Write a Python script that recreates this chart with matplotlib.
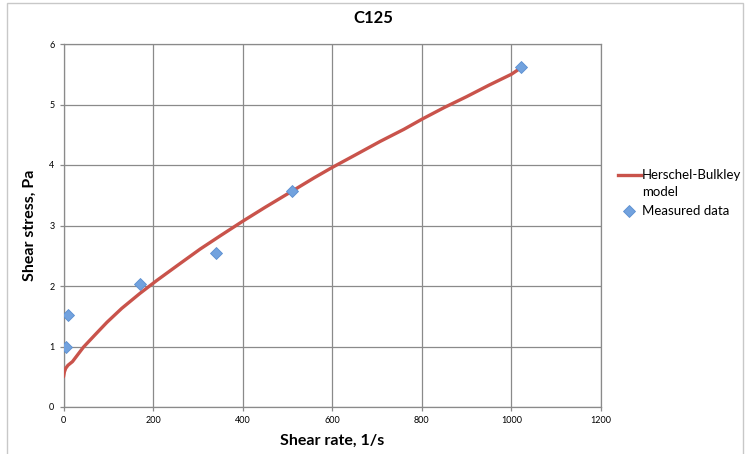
import matplotlib
matplotlib.use("Agg")
import matplotlib.pyplot as plt
from matplotlib.patches import Rectangle
from matplotlib.lines import Line2D

# measured points (Fann rates in 1/s, stress in Pa)
shear_rate = [5.11, 10.22, 170.3, 340.6, 510.9, 1021.8]
shear_stress = [1.00, 1.52, 2.03, 2.55, 3.57, 5.62]

# Herschel-Bulkley model curve
model_rate = [0, 2, 5, 10, 20, 44.6, 70, 97, 130, 171, 208, 260, 305, 350, 400,
              450, 513, 560, 600, 650, 707, 760, 801, 850, 900, 950, 1000, 1022]
model_stress = [0.50, 0.58, 0.64, 0.69, 0.75, 0.99, 1.19, 1.40, 1.63, 1.88, 2.09,
                2.37, 2.61, 2.83, 3.07, 3.30, 3.58, 3.79, 3.96, 4.16, 4.39, 4.59,
                4.76, 4.95, 5.13, 5.32, 5.50, 5.61]

x_ticks = [0, 200, 400, 600, 800, 1000, 1200]
y_ticks = [0, 1, 2, 3, 4, 5, 6]

plt.rcParams['font.family'] = ['Lato', 'DejaVu Sans']

W, H = 746, 454
fig = plt.figure(figsize=(W / 100, H / 100), dpi=100)
ax = fig.add_axes([63.5 / W, 47 / H, 537.5 / W, 363 / H])

grid_col = '#8a8a8a'
line_col = '#c9534b'
mk = dict(marker='D', ms=6.5, mfc='#72a2de', mec='#5b8fd0', mew=0.6)

ax.plot(model_rate, model_stress, color=line_col, lw=2.4,
        solid_capstyle='round', zorder=3)
ax.plot(shear_rate, shear_stress, linestyle='none', zorder=4, **mk)

ax.set_xlim(0, 1200)
ax.set_ylim(0, 6)
ax.set_xticks(x_ticks)
ax.set_yticks(y_ticks)
ax.grid(True, color=grid_col, lw=0.9)
ax.set_axisbelow(True)
for s in ax.spines.values():
    s.set_color(grid_col)
    s.set_linewidth(0.9)
ax.tick_params(colors=grid_col, labelcolor='black', labelsize=6.5,
               length=3, width=0.9, direction='out')

ax.set_xlabel('Shear rate, 1/s', fontsize=11.5, fontweight='bold', labelpad=6)
ax.set_ylabel('Shear stress, Pa', fontsize=11.5, fontweight='bold', labelpad=9)
fig.text(373 / W, 1 - 18 / H, 'C125', ha='center', va='center',
         fontsize=12, fontweight='bold')

# legend drawn by hand so the line key sits on the first text row
fig.add_artist(Line2D([618 / W, 641 / W], [1 - 175 / H] * 2, color=line_col,
                      lw=2.4, transform=fig.transFigure))
fig.add_artist(Line2D([629 / W], [1 - 211 / H], linestyle='none',
                      transform=fig.transFigure, **mk))
for ty, txt in [(175, 'Herschel-Bulkley'), (192, 'model'), (211, 'Measured data')]:
    fig.text(642 / W, 1 - ty / H, txt, ha='left', va='center', fontsize=9.5)

# thin outer frame of the chart area
fig.patches.append(Rectangle((7 / W, -0.05), 736 / W, 1.05 - 3 / H,
                             transform=fig.transFigure, fill=False,
                             edgecolor='#c8c8c8', lw=1.0))

fig.savefig('out.png', dpi=100)
